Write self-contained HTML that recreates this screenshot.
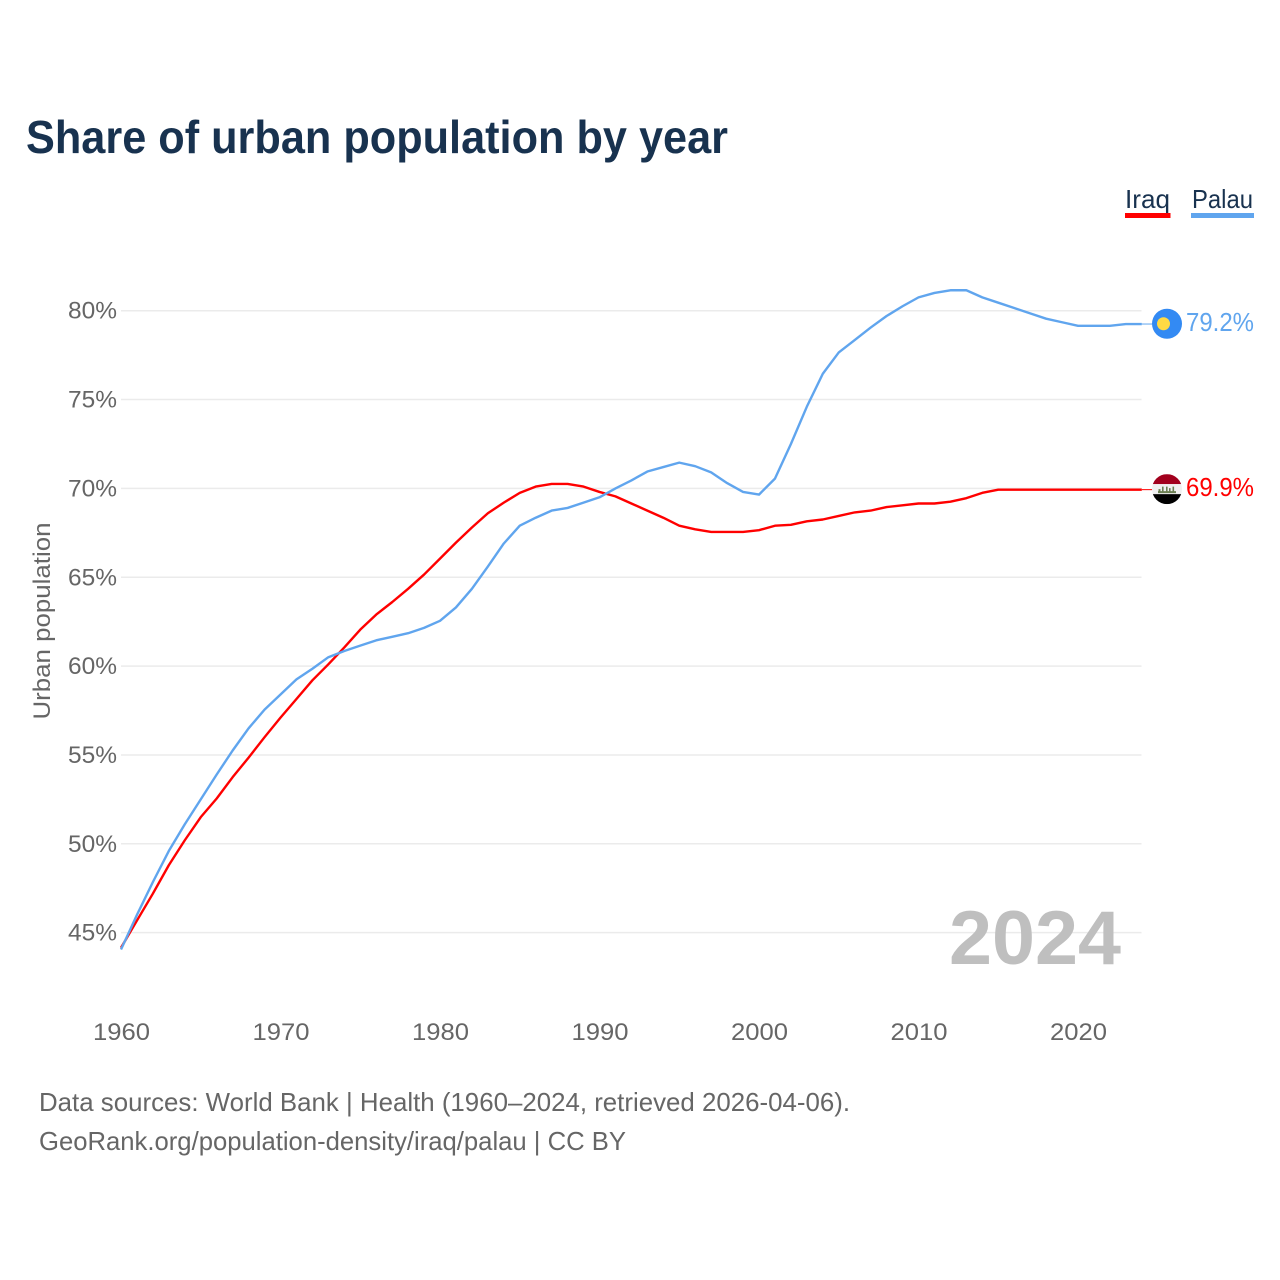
<!DOCTYPE html>
<html lang="en">
<head>
<meta charset="utf-8">
<title>Share of urban population by year</title>
<style>
html,body{margin:0;padding:0;background:#fff;width:1280px;height:1280px;overflow:hidden}
svg{display:block}
text{font-family:"Liberation Sans",sans-serif}
</style>
</head>
<body>
<svg id="chart" xmlns="http://www.w3.org/2000/svg" width="1280" height="1280" viewBox="0 0 1280 1280">
  <rect width="1280" height="1280" fill="#fff"/>
  <text x="26" y="153" font-size="46" font-weight="700" fill="#18324f" textLength="702" lengthAdjust="spacingAndGlyphs">Share of urban population by year</text>

  <g>
    <g>
      <text x="1125" y="208" font-size="26" fill="#18324f" textLength="45" lengthAdjust="spacingAndGlyphs">Iraq</text>
      <rect x="1125" y="213" width="45.5" height="5" fill="#ff0000"/>
    </g>
    <g>
      <text x="1192" y="208" font-size="26" fill="#18324f" textLength="61" lengthAdjust="spacingAndGlyphs">Palau</text>
      <rect x="1191" y="213" width="63" height="5" fill="#60a5ee"/>
    </g>
  </g>

  <text transform="translate(50,621) rotate(-90)" text-anchor="middle" font-size="24" fill="#666" textLength="197" lengthAdjust="spacingAndGlyphs">Urban population</text>

  <g id="grid"></g>
  <g id="yticks"></g>
  <g id="xticks"></g>

  <text x="949" y="964" font-size="76" font-weight="700" fill="#bfbfbf" textLength="172" lengthAdjust="spacingAndGlyphs">2024</text>

  <g id="series"></g>

  <defs>
    <clipPath id="flagClipIraq"><circle cx="1167" cy="489" r="15"/></clipPath>
  </defs>
  <g id="flagIraq">
    <g clip-path="url(#flagClipIraq)">
      <rect x="1152" y="474" width="30" height="10" fill="#a2001d"/>
      <rect x="1152" y="484" width="30" height="10" fill="#f0f0f0"/>
      <rect x="1152" y="494" width="30" height="10" fill="#000"/>
      <path d="M1158 491h18v2h-18zM1158.500 489h2v2h-2zM1162 486.500h1.600v5h-1.600zM1166 486.500h1.600v5h-1.600zM1169 488h1.600v3h-1.600zM1172.500 486.500h1.600v5h-1.600z" fill="#6b7f52"/>
    </g>
  </g>
  <g id="flagPalau">
    <circle cx="1167" cy="324" r="15" fill="#338af3"/>
    <circle cx="1163.500" cy="324" r="6.500" fill="#ffda44"/>
  </g>
  <g id="endLabels"></g>

  <g>
    <text x="39" y="1111" font-size="26" fill="#666" textLength="811" lengthAdjust="spacingAndGlyphs">Data sources: World Bank | Health (1960–2024, retrieved 2026-04-06).</text>
    <text x="39" y="1150" font-size="26" fill="#666" textLength="587" lengthAdjust="spacingAndGlyphs">GeoRank.org/population-density/iraq/palau | CC BY</text>
  </g>
</svg>
<script>
const years = [1960,1961,1962,1963,1964,1965,1966,1967,1968,1969,1970,1971,1972,1973,1974,1975,1976,1977,1978,1979,1980,1981,1982,1983,1984,1985,1986,1987,1988,1989,1990,1991,1992,1993,1994,1995,1996,1997,1998,1999,2000,2001,2002,2003,2004,2005,2006,2007,2008,2009,2010,2011,2012,2013,2014,2015,2016,2017,2018,2019,2020,2021,2022,2023,2024];
const iraqValues = [44.15,45.68,47.2,48.8,50.2,51.5,52.55,53.75,54.85,56.0,57.1,58.15,59.2,60.1,61.05,62.05,62.9,63.6,64.35,65.15,66.05,66.95,67.8,68.6,69.2,69.75,70.1,70.25,70.25,70.1,69.8,69.55,69.15,68.75,68.35,67.9,67.7,67.55,67.55,67.55,67.65,67.9,67.95,68.15,68.25,68.45,68.65,68.75,68.95,69.05,69.15,69.15,69.25,69.45,69.75,69.93,69.93,69.93,69.93,69.93,69.93,69.93,69.93,69.93,69.93];
const palauValues = [44.05,46.0,47.85,49.6,51.1,52.5,53.9,55.25,56.5,57.55,58.4,59.25,59.85,60.5,60.85,61.15,61.45,61.65,61.85,62.15,62.55,63.3,64.35,65.6,66.9,67.9,68.35,68.75,68.9,69.2,69.5,70.0,70.45,70.95,71.2,71.45,71.25,70.9,70.3,69.8,69.65,70.55,72.5,74.6,76.45,77.65,78.35,79.05,79.7,80.25,80.75,81.0,81.15,81.15,80.75,80.45,80.15,79.85,79.55,79.35,79.15,79.15,79.15,79.25,79.25];
const yTickValues = [45,50,55,60,65,70,75,80];
const xTickValues = [1960,1970,1980,1990,2000,2010,2020];
const iraqEndLabel = "69.9%";
const palauEndLabel = "79.2%";

const NS = "http://www.w3.org/2000/svg";
function xScale(year){ return 121 + (year - 1960) * 15.95; }
function yScale(v){ return 310.7 + (80 - v) * 17.77; }
function make(tag, attrs, parent){
  const el = document.createElementNS(NS, tag);
  for (const k in attrs) el.setAttribute(k, attrs[k]);
  parent.appendChild(el);
  return el;
}
const gridG = document.getElementById("grid");
const yG = document.getElementById("yticks");
const xG = document.getElementById("xticks");
const seriesG = document.getElementById("series");
const endG = document.getElementById("endLabels");

yTickValues.forEach(function(v){
  const line = make("line", {x1:121, x2:1141.500, y1:yScale(v), y2:yScale(v), stroke:"#ebebeb", "stroke-width":1.500}, gridG);
  
  
  const label = make("text", {x:117, y:yScale(v)+8, "text-anchor":"end", "font-size":24, fill:"#666", textLength:49, lengthAdjust:"spacingAndGlyphs"}, yG);
  
  
  label.textContent = v + "%";
});
xTickValues.forEach(function(y){
  const label = make("text", {x:xScale(y)+0.500, y:1040, "text-anchor":"middle", "font-size":24, fill:"#666", textLength:57, lengthAdjust:"spacingAndGlyphs"}, xG);
  
  
  label.textContent = y;
});
function linePath(vals){
  return vals.map(function(v,i){ return (i ? "L" : "M") + xScale(years[i]).toFixed(2) + " " + yScale(v).toFixed(2); }).join("");
}
const iraqLine = make("path", {d:linePath(iraqValues), fill:"none", stroke:"#ff0000", "stroke-width":2.400, "stroke-linejoin":"round"}, seriesG);


const palauLine = make("path", {d:linePath(palauValues), fill:"none", stroke:"#60a5ee", "stroke-width":2.400, "stroke-linejoin":"round"}, seriesG);



const lastX = xScale(years[years.length-1]);
const iraqEndY = yScale(iraqValues[iraqValues.length-1]);
const palauEndY = yScale(palauValues[palauValues.length-1]);
const iraqLeader = make("line", {x1:lastX, x2:1152, y1:iraqEndY, y2:iraqEndY, stroke:"#ff0000", "stroke-width":1}, seriesG);


const palauLeader = make("line", {x1:lastX, x2:1152, y1:palauEndY, y2:palauEndY, stroke:"#60a5ee", "stroke-width":1}, seriesG);



document.getElementById("flagIraq").setAttribute("transform", "translate(0," + (iraqEndY - 489.5) + ")");
document.getElementById("flagPalau").setAttribute("transform", "translate(0," + (palauEndY - 324.3) + ")");

const iraqLabel = make("text", {x:1186, y:iraqEndY+6.500, "font-size":26, fill:"#ff0000", textLength:68, lengthAdjust:"spacingAndGlyphs"}, endG);


iraqLabel.textContent = iraqEndLabel;
const palauLabel = make("text", {x:1186, y:palauEndY+7.200, "font-size":26, fill:"#60a5ee", textLength:68, lengthAdjust:"spacingAndGlyphs"}, endG);


palauLabel.textContent = palauEndLabel;
</script>
</body>
</html>
